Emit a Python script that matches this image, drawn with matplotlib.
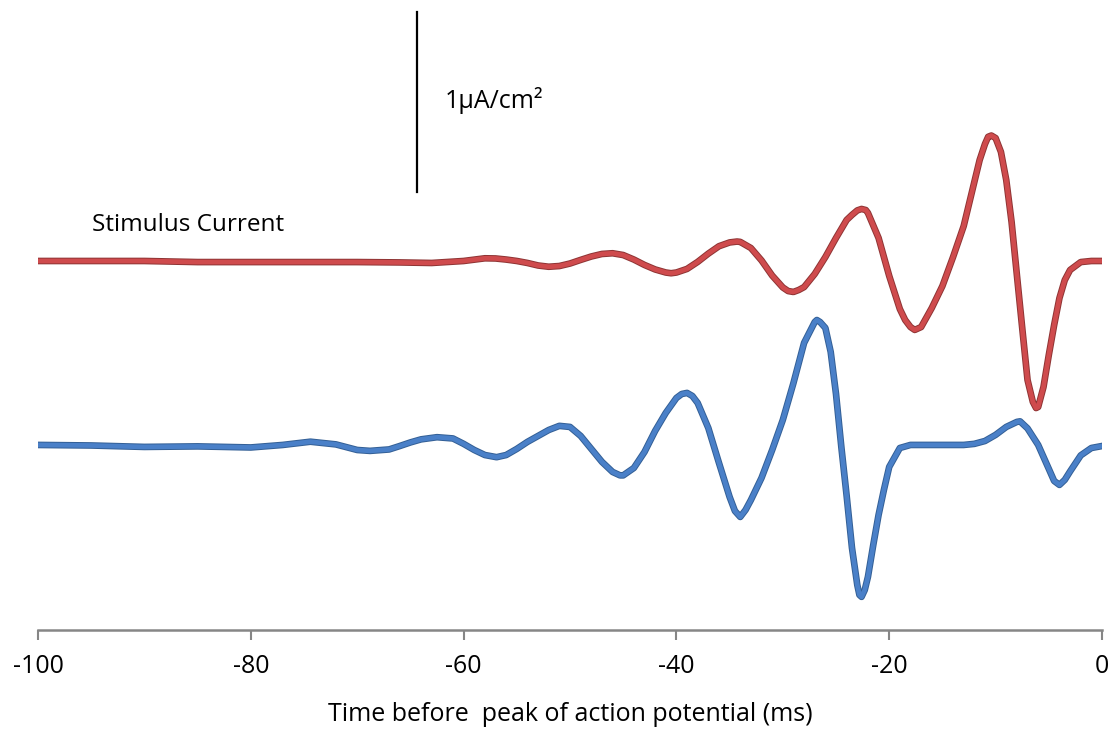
import matplotlib.pyplot as plt
import matplotlib.patheffects as pe

# time before AP peak (ms) and current deviation (uA/cm^2)
red_t = [-100, -95, -90, -85, -80, -75, -70, -66, -63, -60, -58, -57, -56, -55,
         -54, -53, -52, -51, -50, -49, -48, -47, -46, -45, -44, -43, -42, -41,
         -40.5, -40, -39, -38, -37, -36, -35, -34.3, -34, -33, -32, -31, -30,
         -29.5, -29, -28.5, -28, -27, -26, -25, -24, -23.5, -23, -22.6, -22.2,
         -22, -21, -20, -19, -18.5, -18, -17.6, -17, -16, -15, -14, -13, -12,
         -11.5, -11, -10.7, -10.4, -10, -9.5, -9, -8.5, -8, -7.5, -7, -6.5,
         -6.2, -6, -5.5, -5, -4.5, -4, -3.5, -3, -2, -1, 0]
red_i = [0, 0, 0, -0.006, -0.006, -0.006, -0.006, -0.008, -0.011, 0, 0.015,
         0.014, 0.008, 0, -0.011, -0.025, -0.032, -0.028, -0.014, 0.006, 0.025,
         0.039, 0.043, 0.033, 0.008, -0.022, -0.047, -0.064, -0.068, -0.064,
         -0.044, -0.005, 0.041, 0.082, 0.103, 0.108, 0.106, 0.072, 0.003,
         -0.081, -0.147, -0.167, -0.172, -0.161, -0.145, -0.072, 0.022, 0.128,
         0.228, 0.256, 0.281, 0.289, 0.283, 0.267, 0.128, -0.083, -0.267,
         -0.328, -0.367, -0.383, -0.367, -0.261, -0.139, 0.022, 0.194, 0.439,
         0.561, 0.65, 0.69, 0.697, 0.683, 0.606, 0.45, 0.217, -0.078, -0.372,
         -0.661, -0.783, -0.817, -0.811, -0.7, -0.522, -0.356, -0.206, -0.106,
         -0.05, -0.006, 0, 0]

blue_t = [-100, -95, -90, -85, -80, -77, -74.4, -72, -70, -68.8, -67, -66, -65,
          -64, -62.5, -61, -60, -59, -58, -56.9, -56, -55, -54, -53, -52, -51,
          -50, -49, -48, -47, -46, -45.3, -45, -44, -43, -42, -41, -40, -39.5,
          -39, -38.5, -38, -37, -36, -35, -34.5, -34, -33.5, -33, -32, -31, -30,
          -29, -28, -27, -26.8, -26.5, -26, -25.5, -25, -24.5, -24, -23.5, -23,
          -22.8, -22.6, -22.3, -22, -21.5, -21, -20.5, -20, -19, -18, -13, -12,
          -11, -10, -9, -8, -7.7, -7, -6, -5, -4.5, -4, -3.5, -3, -2, -1, 0]
blue_i = [0, -0.003, -0.011, -0.008, -0.014, 0, 0.018, 0.003, -0.028, -0.033,
          -0.025, -0.006, 0.014, 0.031, 0.043, 0.036, 0.006, -0.028, -0.056,
          -0.068, -0.056, -0.022, 0.017, 0.05, 0.083, 0.106, 0.1, 0.05, -0.022,
          -0.094, -0.15, -0.169, -0.169, -0.128, -0.039, 0.078, 0.178, 0.261,
          0.283, 0.289, 0.272, 0.233, 0.094, -0.1, -0.289, -0.367, -0.4,
          -0.361, -0.306, -0.183, -0.028, 0.139, 0.344, 0.567, 0.683, 0.694,
          0.683, 0.65, 0.517, 0.283, -0.011, -0.283, -0.572, -0.778, -0.833,
          -0.844, -0.806, -0.733, -0.556, -0.389, -0.25, -0.122, -0.017, 0, 0,
          0.006, 0.022, 0.056, 0.1, 0.128, 0.131, 0.092, 0, -0.133, -0.2,
          -0.222, -0.194, -0.147, -0.058, -0.017, -0.006]

red_offset = 2.05
blue_offset = 1.028
xticks = [-100, -80, -60, -40, -20, 0]

plt.rcParams['font.family'] = ['Open Sans', 'DejaVu Sans']

fig = plt.figure(figsize=(11.18, 7.31), dpi=100)
ax = fig.add_axes([0.034, 0.1382, 0.9517, 0.8618])

red_fx = [pe.Stroke(linewidth=4.8, foreground='#8e3434'), pe.Normal()]
blue_fx = [pe.Stroke(linewidth=4.8, foreground='#335f95'), pe.Normal()]
ax.plot(red_t, [v + red_offset for v in red_i], color='#cf4b4d', lw=3.4,
        solid_joinstyle='round', path_effects=red_fx)
ax.plot(blue_t, [v + blue_offset for v in blue_i], color='#4a80c8', lw=3.4,
        solid_joinstyle='round', path_effects=blue_fx)

# scale bar
ax.plot([-64.4, -64.4], [2.433, 3.433], color='black', lw=1.6)
ax.text(-61.75, 2.944, '1\u03bcA/cm\u00b2', fontsize=18, va='center', ha='left')
ax.text(-94.9, 2.25, 'Stimulus Current', fontsize=17.5, va='center', ha='left')

ax.set_xlim(-100, 0)
ax.set_ylim(0, 3.5)
ax.set_xticks(xticks)
ax.set_xticklabels([str(x) for x in xticks], fontsize=18)
ax.set_yticks([])
ax.tick_params(axis='x', direction='out', length=7, width=1.5, color='#868686', pad=10)
for s in ['left', 'right', 'top']:
    ax.spines[s].set_visible(False)
ax.spines['bottom'].set_color('#868686')
ax.spines['bottom'].set_linewidth(1.8)
ax.set_xlabel('Time before  peak of action potential (ms)', fontsize=18, labelpad=17)

fig.savefig('out.png', dpi=100)
